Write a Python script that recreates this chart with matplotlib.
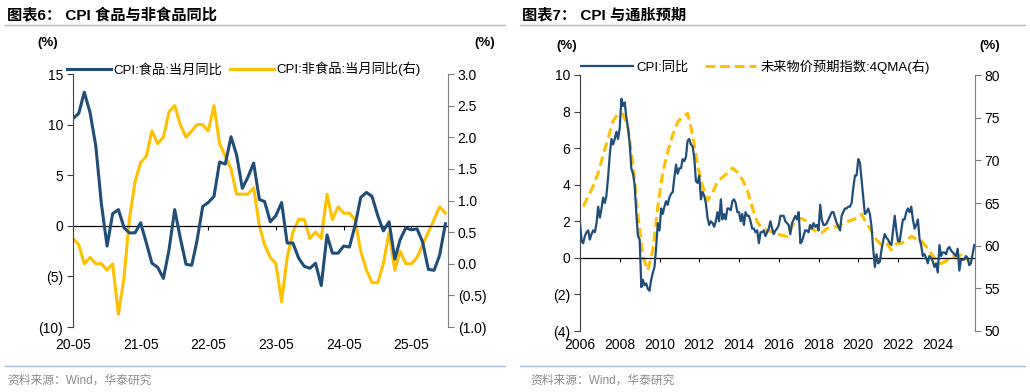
import numpy as np
import pandas as pd
import matplotlib
matplotlib.use("Agg")
import matplotlib.pyplot as plt
from matplotlib.ticker import FuncFormatter, MultipleLocator

plt.rcParams['font.family'] = ['Liberation Sans', 'Noto Sans CJK SC']
plt.rcParams['axes.unicode_minus'] = False

NAVY = "#1F4E79"
GOLD = "#FFC000"
RULE = "#A6BBD1"
SPINE = "#404040"

# ---- 图表6 data: monthly 2020-05 .. 2025-11
food_yoy = [10.6, 11.1, 13.2, 11.2, 7.9, 2.2, -2.0, 1.2,
            1.6, -0.2, -0.7, -0.7, 0.3, -1.7, -3.7, -4.1, -5.2, -2.4, 1.6, -1.2,
            -3.8, -3.9, -1.5, 1.9, 2.3, 2.9, 6.3, 6.1, 8.8, 7.0, 3.7, 4.8,
            6.2, 2.6, 2.4, 0.4, 1.0, 2.3, -1.7, -1.7, -3.2, -4.0, -4.2, -3.7,
            -5.9, -0.9, -2.7, -2.7, -2.0, -2.1, 0.0, 2.8, 3.3, 2.9, 1.0, -0.5,
            0.4, -3.3, -1.4, -0.2, -0.4, -0.3, -1.6, -4.3, -4.4, -2.9, 0.2]
nonfood_yoy = [0.4, 0.3, 0.0, 0.1, 0.0, 0.0, -0.1, 0.0,
               -0.8, -0.2, 0.7, 1.3, 1.6, 1.7, 2.1, 1.9, 2.0, 2.4, 2.5, 2.2,
               2.0, 2.1, 2.2, 2.2, 2.1, 2.5, 1.9, 1.7, 1.5, 1.1, 1.1, 1.1,
               1.2, 0.6, 0.3, 0.1, 0.0, -0.6, 0.1, 0.5, 0.7, 0.7, 0.4, 0.5,
               0.4, 1.1, 0.7, 0.9, 0.8, 0.8, 0.7, 0.2, -0.1, -0.3, -0.3, 0.0,
               0.5, -0.1, 0.2, 0.0, 0.0, 0.1, 0.3, 0.5, 0.7, 0.9, 0.8]
months6 = pd.date_range("2020-05-01", periods=len(food_yoy), freq="MS")
ticks6 = pd.date_range("2020-05-01", "2025-05-01", freq="12MS")
ticklabels6 = ["20-05", "21-05", "22-05", "23-05", "24-05", "25-05"]

# ---- 图表7 data: CPI monthly 2006-01 .. 2025-11, expectation index quarterly
cpi_yoy = [
    1.9, 0.9, 0.8, 1.2, 1.4, 1.5, 1.0, 1.3, 1.5, 1.4, 1.9, 2.8,
    2.2, 2.7, 3.3, 3.0, 3.4, 4.4, 5.6, 6.5, 6.2, 6.5, 6.9, 6.5,
    7.1, 8.7, 8.3, 8.5, 7.7, 7.1, 6.3, 4.9, 4.6, 4.0, 2.4, 1.2,
    1.0, -1.6, -1.2, -1.5, -1.4, -1.7, -1.8, -1.2, -0.8, -0.5, 0.6, 1.9,
    1.5, 2.7, 2.4, 2.8, 3.1, 2.9, 3.3, 3.5, 3.6, 4.4, 5.1, 4.6,
    4.9, 4.9, 5.4, 5.3, 5.5, 6.4, 6.5, 6.2, 6.1, 5.5, 4.2, 4.1,
    4.5, 3.2, 3.6, 3.4, 3.0, 2.2, 1.8, 2.0, 1.9, 1.7, 2.0, 2.5,
    2.0, 3.2, 2.1, 2.4, 2.1, 2.7, 2.7, 2.6, 3.1, 3.2, 3.0, 2.5,
    2.5, 2.0, 2.4, 1.8, 2.5, 2.3, 2.3, 2.0, 1.6, 1.6, 1.4, 1.5,
    0.8, 1.4, 1.4, 1.5, 1.2, 1.4, 1.6, 2.0, 1.6, 1.3, 1.5, 1.6,
    1.8, 2.3, 2.3, 2.3, 2.0, 1.9, 1.8, 1.3, 1.9, 2.1, 2.3, 2.1,
    2.5, 0.8, 0.9, 1.2, 1.5, 1.5, 1.4, 1.8, 1.6, 1.9, 1.7, 1.8,
    1.5, 2.9, 2.1, 1.8, 1.8, 1.9, 2.1, 2.3, 2.5, 2.5, 2.2, 1.9,
    1.7, 1.5, 2.3, 2.5, 2.7, 2.7, 2.8, 2.8, 3.0, 3.8, 4.5, 4.5,
    5.4, 5.2, 4.3, 3.3, 2.4, 2.5, 2.7, 2.4, 1.7, 0.5, -0.5, 0.2,
    -0.3, -0.2, 0.4, 0.9, 1.3, 1.1, 1.0, 0.8, 0.7, 1.5, 2.3, 1.5,
    0.9, 0.9, 1.5, 2.1, 2.1, 2.5, 2.7, 2.5, 2.8, 2.1, 1.6, 1.8,
    2.1, 1.0, 0.7, 0.1, 0.2, 0.0, -0.3, 0.1, 0.0, -0.2, -0.5, -0.3,
    -0.8, 0.7, 0.1, 0.3, 0.3, 0.2, 0.5, 0.6, 0.4, 0.3, 0.2, 0.1,
    0.5, -0.7, -0.1, -0.1, -0.1, 0.1, 0.0, -0.4, -0.3, 0.2, 0.7]
expect_4qma = [
    64.6, 65.8, 67.0, 68.5, 70.6, 72.6, 74.6, 75.5, 75.4, 73.8,
    69.5, 63.5, 58.7, 57.1, 59.5, 64.6, 68.6, 71.0, 73.0, 74.5,
    75.1, 75.5, 73.0, 69.4, 67.0, 65.3, 66.2, 67.5, 68.0, 68.5,
    69.1, 68.6, 67.8, 66.5, 64.5, 62.8, 62.0, 61.8, 61.6, 61.4,
    61.2, 61.1, 62.3, 63.1, 63.2, 62.8, 62.0, 61.6, 61.5, 62.0,
    62.2, 62.2, 62.5, 62.8, 63.0, 63.2, 63.7, 62.6, 61.7, 60.7,
    60.1, 60.3, 59.5, 60.2, 60.3, 60.6, 61.1, 60.8, 60.6, 59.9,
    59.1, 58.3, 57.9, 58.2, 58.6, 58.8, 58.9, 58.6, 57.9]
months7 = pd.date_range("2006-01-01", periods=len(cpi_yoy), freq="MS")
quarters7 = pd.date_range("2006-03-01", periods=len(expect_4qma), freq="3MS")
ticks7 = pd.date_range("2006-01-01", "2024-01-01", freq="24MS")
ticklabels7 = [str(y) for y in range(2006, 2025, 2)]


def paren(fmt):
    def f(v, pos):
        s = fmt.format(abs(v))
        return "(" + s + ")" if v < -1e-9 else s
    return f


def style_axes(ax, axr, tick_dates, tick_labels, zero_frac, xpad):
    for a in (ax, axr):
        for s in ("top", "bottom"):
            a.spines[s].set_visible(False)
    ax.spines["right"].set_visible(False)
    axr.spines["left"].set_visible(False)
    ax.spines["left"].set_color(SPINE)
    axr.spines["right"].set_color("#7F7F7F")
    ax.tick_params(axis="y", direction="out", length=4, color=SPINE,
                   labelsize=10, pad=3)
    axr.tick_params(axis="y", direction="out", length=4, color="#7F7F7F",
                    labelsize=10, pad=3)
    ax.set_xticks(tick_dates)
    ax.set_xticklabels(tick_labels)
    ax.tick_params(axis="x", length=0, labelsize=10, pad=xpad)
    # tick marks sit on the zero line
    sec = ax.secondary_xaxis(zero_frac)
    sec.set_xticks(tick_dates)
    sec.tick_params(axis="x", direction="out", length=3, color="black",
                    labelbottom=False, labeltop=False)
    sec.spines["bottom"].set_visible(False)
    ax.axhline(0, color="black", lw=0.9, zorder=1)


fig = plt.figure(figsize=(10.30, 3.92), dpi=100)

# ---------------- 图表6
ax1 = fig.add_axes([73 / 1030, 65 / 392, 375 / 1030, 253 / 392])
ax1r = ax1.twinx()
l1, = ax1.plot(months6, food_yoy, color=NAVY, lw=2.2, label="CPI:食品:当月同比", zorder=3)
l2, = ax1r.plot(months6, nonfood_yoy, color=GOLD, lw=2.2, label="CPI:非食品:当月同比(右)")
ax1.set_zorder(ax1r.get_zorder() + 1)
ax1.patch.set_visible(False)
ax1.set_ylim(-10, 15)
ax1.yaxis.set_major_locator(MultipleLocator(5))
ax1.yaxis.set_major_formatter(FuncFormatter(paren("{:.0f}")))
ax1r.set_ylim(-1.0, 3.0)
ax1r.yaxis.set_major_locator(MultipleLocator(0.5))
ax1r.yaxis.set_major_formatter(FuncFormatter(paren("{:.1f}")))
ax1.set_xlim(pd.Timestamp("2020-05-01"), pd.Timestamp("2025-11-15"))
style_axes(ax1, ax1r, ticks6, ticklabels6, 10 / 25, 8)
ax1.legend(handles=[l1, l2], loc="lower left", bbox_to_anchor=(-0.03, 0.97),
           ncol=2, frameon=False, fontsize=9.5, handlelength=3.3,
           handletextpad=0.2, columnspacing=0.6, borderaxespad=0)

# ---------------- 图表7
ax2 = fig.add_axes([580 / 1030, 61 / 392, 395 / 1030, 256 / 392])
ax2r = ax2.twinx()
l3, = ax2.plot(months7, cpi_yoy, color=NAVY, lw=1.6, label="CPI:同比", zorder=3)
l4, = ax2r.plot(quarters7, expect_4qma, color=GOLD, lw=2.2, ls=(0, (3.2, 1.6)),
                label="未来物价预期指数:4QMA(右)")
ax2.set_zorder(ax2r.get_zorder() + 1)
ax2.patch.set_visible(False)
ax2.set_ylim(-4, 10)
ax2.yaxis.set_major_locator(MultipleLocator(2))
ax2.yaxis.set_major_formatter(FuncFormatter(paren("{:.0f}")))
ax2r.set_ylim(50, 80)
ax2r.yaxis.set_major_locator(MultipleLocator(5))
ax2r.yaxis.set_major_formatter(FuncFormatter(paren("{:.0f}")))
ax2.set_xlim(pd.Timestamp("2006-01-01"), pd.Timestamp("2025-11-15"))
style_axes(ax2, ax2r, ticks7, ticklabels7, 4 / 14, 5)
ax2.legend(handles=[l3, l4], loc="lower left", bbox_to_anchor=(-0.01, 0.985),
           ncol=2, frameon=False, fontsize=9.5, handlelength=3.9,
           handletextpad=0.3, columnspacing=1.2, borderaxespad=0)

# ---------------- titles, units, rules, sources
title_font = ['Liberation Sans', 'Noto Sans CJK SC']
fig.text(7 / 1030, 1 - 15 / 392, "图表6： CPI 食品与非食品同比", fontsize=11,
         fontweight="bold", va="center", family=title_font)
fig.text(522 / 1030, 1 - 15 / 392, "图表7： CPI 与通胀预期", fontsize=11,
         fontweight="bold", va="center", family=title_font)
for x0, x1 in ((5, 505), (520, 1025)):
    fig.add_artist(plt.Line2D([x0 / 1030, x1 / 1030], [1 - 25 / 392] * 2,
                              color=RULE, lw=1.0))
    fig.add_artist(plt.Line2D([x0 / 1030, x1 / 1030], [1 - 366 / 392] * 2,
                              color=RULE, lw=1.0))
fig.text(7 / 1030, 1 - 381 / 392, "资料来源：Wind，华泰研究", fontsize=8.5,
         color="#8C8C8C", va="center")
fig.text(530 / 1030, 1 - 381 / 392, "资料来源：Wind，华泰研究", fontsize=8.5,
         color="#8C8C8C", va="center")
for x, y in ((48, 43), (485, 43), (567, 46), (990, 46)):
    fig.text(x / 1030, 1 - y / 392, "(%)", fontsize=9.5, fontweight="bold",
             ha="center", va="center")

fig.savefig("out.png", dpi=100)
